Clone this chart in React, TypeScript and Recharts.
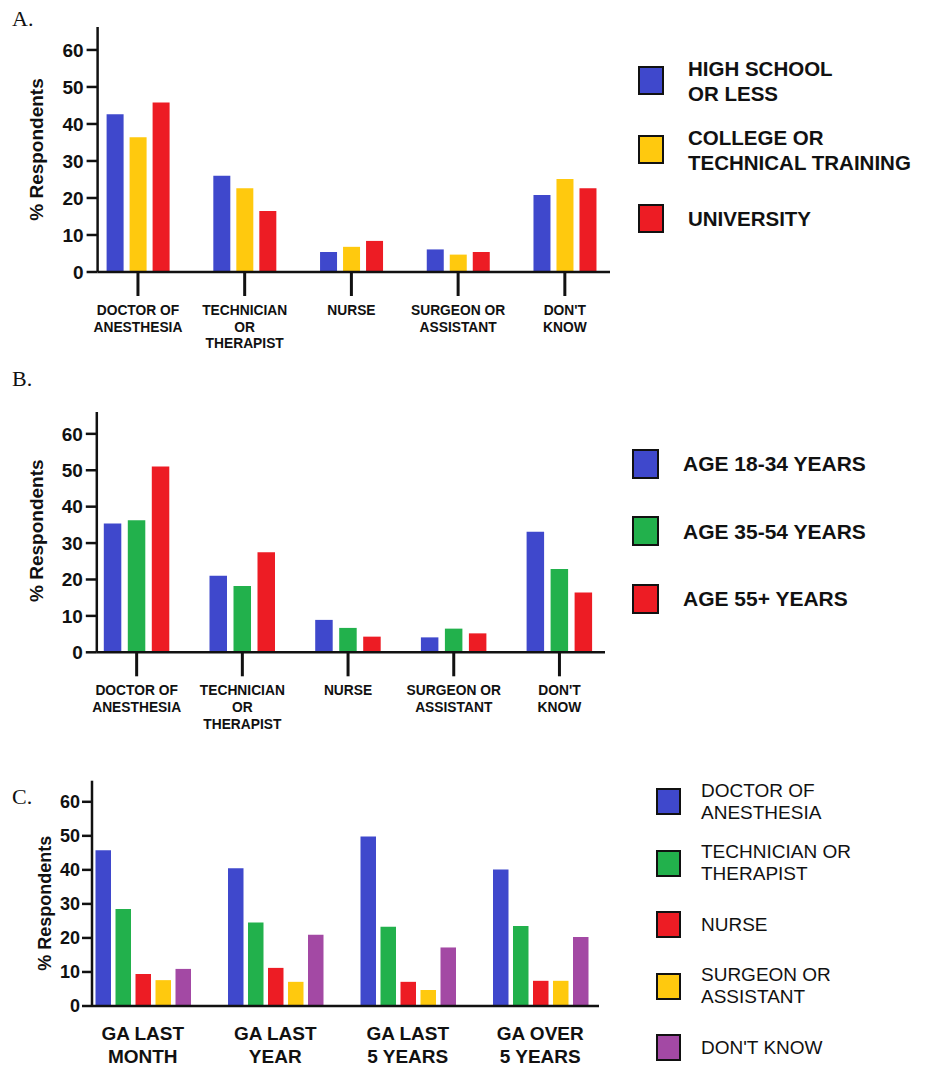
import React from "react";
import { BarChart, Bar, XAxis, YAxis, Legend, Label } from "recharts";

const BLUE = "#3F48CC";
const YELLOW = "#FFC90E";
const RED = "#ED1C24";
const GREEN = "#22B14C";
const PURPLE = "#A349A4";

const SANS = "'Liberation Sans', Arial, sans-serif";
const SERIF = "'Liberation Serif', 'Times New Roman', serif";

const yTicks = [0, 10, 20, 30, 40, 50, 60];

// panel A + B categories
const professions = [
  "DOCTOR OF\nANESTHESIA",
  "TECHNICIAN\nOR\nTHERAPIST",
  "NURSE",
  "SURGEON OR\nASSISTANT",
  "DON'T\nKNOW",
];

// panel A: education
const educationNames = ["HIGH SCHOOL\nOR LESS", "COLLEGE OR\nTECHNICAL TRAINING", "UNIVERSITY"];
const highSchool = [42.6, 26.0, 5.4, 6.1, 20.8];
const college = [36.4, 22.6, 6.8, 4.7, 25.1];
const university = [45.8, 16.5, 8.4, 5.4, 22.6];

// panel B: age
const ageNames = ["AGE 18-34 YEARS", "AGE 35-54 YEARS", "AGE 55+ YEARS"];
const age18to34 = [35.4, 21.0, 8.9, 4.1, 33.1];
const age35to54 = [36.3, 18.2, 6.7, 6.5, 22.9];
const age55plus = [51.0, 27.5, 4.3, 5.2, 16.4];

// panel C: time since GA
const gaPeriods = ["GA LAST\nMONTH", "GA LAST\nYEAR", "GA LAST\n5 YEARS", "GA OVER\n5 YEARS"];
const providerNames = [
  "DOCTOR OF\nANESTHESIA",
  "TECHNICIAN OR\nTHERAPIST",
  "NURSE",
  "SURGEON OR\nASSISTANT",
  "DON'T KNOW",
];
const doctor = [45.8, 40.5, 49.8, 40.1];
const technician = [28.5, 24.5, 23.3, 23.5];
const nurse = [9.4, 11.2, 7.1, 7.4];
const surgeon = [7.6, 7.1, 4.7, 7.4];
const dontKnow = [10.9, 20.9, 17.2, 20.3];

const dataA = professions.map((name, i) => ({
  name,
  a: highSchool[i],
  b: college[i],
  c: university[i],
}));

const dataB = professions.map((name, i) => ({
  name,
  a: age18to34[i],
  b: age35to54[i],
  c: age55plus[i],
}));

const dataC = gaPeriods.map((name, i) => ({
  name,
  doctor: doctor[i],
  technician: technician[i],
  nurse: nurse[i],
  surgeon: surgeon[i],
  dontKnow: dontKnow[i],
}));

const axisLine = { stroke: "#111", strokeWidth: 2.5 };

const MultiLineTick = (props: any) => {
  const { x, y, payload, fontSize, lineHeight, firstDy } = props;
  const lines = String(payload.value).split("\n");
  return (
    <text
      x={x}
      y={y}
      textAnchor="middle"
      fontFamily={SANS}
      fontWeight="bold"
      fontSize={fontSize}
      fill="#111"
    >
      {lines.map((line, i) => (
        <tspan key={i} x={x} dy={i === 0 ? firstDy : lineHeight}>
          {line}
        </tspan>
      ))}
    </text>
  );
};

const yLabel = (cx: number, fontSize: number, dy = 0) => (props: any) => {
  const vb = props.viewBox;
  const cy = vb.y + vb.height / 2 + dy;
  return (
    <text
      x={cx}
      y={cy}
      transform={`rotate(-90, ${cx}, ${cy})`}
      textAnchor="middle"
      dominantBaseline="central"
      fontFamily={SANS}
      fontWeight="bold"
      fontSize={fontSize}
      fill="#111"
    >
      % Respondents
    </text>
  );
};

type LegendOpts = {
  boxW: number;
  boxH: number;
  rowH: number;
  textGap: number;
  fontSize: number;
  lineHeight: number;
  bold: boolean;
};

const LegendList = (props: any) => {
  const { payload, opts, order } = props as { payload: any[]; opts: LegendOpts; order: string[] };
  const items = [...(payload || [])].sort(
    (p, q) => order.indexOf(p.value) - order.indexOf(q.value)
  );
  return (
    <div>
      {items.map((p: any) => (
        <div
          key={p.value}
          style={{ display: "flex", alignItems: "center", height: opts.rowH }}
        >
          <div
            style={{
              width: opts.boxW,
              height: opts.boxH,
              background: p.color,
              border: "2.5px solid #111",
              boxSizing: "border-box",
              flexShrink: 0,
            }}
          />
          <div
            style={{
              marginLeft: opts.textGap,
              fontFamily: SANS,
              fontSize: opts.fontSize,
              lineHeight: `${opts.lineHeight}px`,
              fontWeight: opts.bold ? "bold" : "normal",
              whiteSpace: "pre",
              color: "#111",
            }}
          >
            {p.value}
          </div>
        </div>
      ))}
    </div>
  );
};

const panelLetter = (letter: string, top: number) => (
  <div
    style={{
      position: "absolute",
      left: 12,
      top,
      fontFamily: SERIF,
      fontSize: 22,
      lineHeight: "22px",
      color: "#111",
    }}
  >
    {letter}
  </div>
);

export default function App() {
  return (
    <div style={{ position: "absolute", left: 0, top: 0, width: 931, height: 1066, background: "#fff" }}>
      {panelLetter("A.", 8)}
      {panelLetter("B.", 368)}
      {panelLetter("C.", 786)}

      {/* A */}
      <div style={{ position: "absolute", left: 0, top: 0 }}>
        <BarChart
          width={931}
          height={360}
          data={dataA}
          margin={{ top: 27, right: 321, bottom: 8, left: 17.6 }}
          barSize={17}
          barGap={6}
        >
          <XAxis
            dataKey="name"
            height={80}
            interval={0}
            padding={{ left: -13, right: -8.2 }}
            axisLine={axisLine}
            tickLine={{ stroke: "#111", strokeWidth: 3 }}
            tickSize={24}
            tickMargin={0}
            tick={(p: any) => <MultiLineTick {...p} fontSize={13.8} lineHeight={16.7} firstDy={19} />}
          />
          <YAxis
            width={80}
            domain={[0, 66.2]}
            ticks={yTicks}
            interval={0}
            axisLine={axisLine}
            tickLine={{ stroke: "#111", strokeWidth: 2.5 }}
            tickSize={11}
            tickMargin={3}
            tick={{ fill: "#111", fontSize: 19, fontWeight: "bold", fontFamily: SANS }}
          >
            <Label content={yLabel(36.4, 19)} />
          </YAxis>
          <Legend
            layout="vertical"
            align="center"
            verticalAlign="middle"
            wrapperStyle={{ left: 638, top: 46, width: 290 }}
            content={(p: any) => (
              <LegendList
                {...p}
                order={educationNames}
                opts={{ boxW: 26, boxH: 29, rowH: 69, textGap: 24, fontSize: 20.5, lineHeight: 25, bold: true }}
              />
            )}
          />
          <Bar dataKey="a" name={educationNames[0]} fill={BLUE} isAnimationActive={false} />
          <Bar dataKey="b" name={educationNames[1]} fill={YELLOW} isAnimationActive={false} />
          <Bar dataKey="c" name={educationNames[2]} fill={RED} isAnimationActive={false} />
        </BarChart>
      </div>

      {/* B */}
      <div style={{ position: "absolute", left: 0, top: 360 }}>
        <BarChart
          width={931}
          height={385}
          data={dataB}
          margin={{ top: 52, right: 326, bottom: 12.7, left: 16.8 }}
          barSize={17.5}
          barGap={6.5}
        >
          <XAxis
            dataKey="name"
            height={80}
            interval={0}
            padding={{ left: -13, right: -7.3 }}
            axisLine={axisLine}
            tickLine={{ stroke: "#111", strokeWidth: 3 }}
            tickSize={24}
            tickMargin={0}
            tick={(p: any) => <MultiLineTick {...p} fontSize={13.8} lineHeight={16.7} firstDy={19} />}
          />
          <YAxis
            width={80}
            domain={[0, 66]}
            ticks={yTicks}
            interval={0}
            axisLine={axisLine}
            tickLine={{ stroke: "#111", strokeWidth: 2.5 }}
            tickSize={11}
            tickMargin={3}
            tick={{ fill: "#111", fontSize: 19, fontWeight: "bold", fontFamily: SANS }}
          >
            <Label content={yLabel(36.4, 19, -1.5)} />
          </YAxis>
          <Legend
            layout="vertical"
            align="center"
            verticalAlign="middle"
            wrapperStyle={{ left: 632, top: 69.75, width: 290 }}
            content={(p: any) => (
              <LegendList
                {...p}
                order={ageNames}
                opts={{ boxW: 27, boxH: 30, rowH: 67.5, textGap: 24, fontSize: 21, lineHeight: 25, bold: true }}
              />
            )}
          />
          <Bar dataKey="a" name={ageNames[0]} fill={BLUE} isAnimationActive={false} />
          <Bar dataKey="b" name={ageNames[1]} fill={GREEN} isAnimationActive={false} />
          <Bar dataKey="c" name={ageNames[2]} fill={RED} isAnimationActive={false} />
        </BarChart>
      </div>

      {/* C */}
      <div style={{ position: "absolute", left: 0, top: 760 }}>
        <BarChart
          width={931}
          height={306}
          data={dataC}
          margin={{ top: 20.7, right: 332, bottom: 2, left: 22 }}
          barSize={15.5}
          barGap={4.5}
        >
          <XAxis
            dataKey="name"
            height={58}
            interval={0}
            padding={{ left: -15.5, right: -7.5 }}
            axisLine={axisLine}
            tickLine={false}
            tickSize={0}
            tickMargin={0}
            tick={(p: any) => <MultiLineTick {...p} fontSize={19} lineHeight={23.3} firstDy={34} />}
          />
          <YAxis
            width={70}
            domain={[0, 66.2]}
            ticks={yTicks}
            interval={0}
            axisLine={axisLine}
            tickLine={{ stroke: "#111", strokeWidth: 2.5 }}
            tickSize={10}
            tickMargin={2}
            tick={{ fill: "#111", fontSize: 18, fontWeight: "bold", fontFamily: SANS }}
          >
            <Label content={yLabel(45, 18, 10)} />
          </YAxis>
          <Legend
            layout="vertical"
            align="center"
            verticalAlign="middle"
            wrapperStyle={{ left: 656, top: 11.3, width: 270 }}
            content={(p: any) => (
              <LegendList
                {...p}
                order={providerNames}
                opts={{ boxW: 25, boxH: 27, rowH: 61.4, textGap: 20, fontSize: 19, lineHeight: 22, bold: false }}
              />
            )}
          />
          <Bar dataKey="doctor" name={providerNames[0]} fill={BLUE} isAnimationActive={false} />
          <Bar dataKey="technician" name={providerNames[1]} fill={GREEN} isAnimationActive={false} />
          <Bar dataKey="nurse" name={providerNames[2]} fill={RED} isAnimationActive={false} />
          <Bar dataKey="surgeon" name={providerNames[3]} fill={YELLOW} isAnimationActive={false} />
          <Bar dataKey="dontKnow" name={providerNames[4]} fill={PURPLE} isAnimationActive={false} />
        </BarChart>
      </div>
    </div>
  );
}
